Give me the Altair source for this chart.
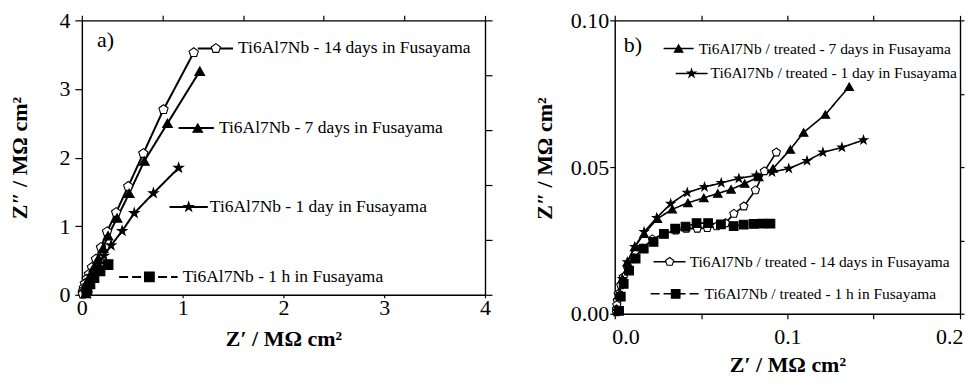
import altair as alt
import pandas as pd

# ---------------- data: panel a (untreated) ----------------
A_SERIES = ["14 days", "7 days", "1 day", "1 h"]
a_x14 = [1.11, 0.81, 0.61, 0.46, 0.34, 0.25, 0.19, 0.14, 0.10, 0.07, 0.05, 0.03, 0.02, 0.015, 0.01, 0.01]
a_y14 = [3.53, 2.70, 2.06, 1.58, 1.20, 0.92, 0.69, 0.52, 0.40, 0.30, 0.23, 0.16, 0.10, 0.06, 0.03, 0.01]
a_x7 = [1.17, 0.85, 0.62, 0.47, 0.35, 0.26, 0.21, 0.16, 0.12, 0.09, 0.06, 0.05, 0.04]
a_y7 = [3.26, 2.50, 1.95, 1.48, 1.12, 0.86, 0.68, 0.52, 0.40, 0.30, 0.20, 0.10, 0.02]
a_x1 = [0.96, 0.71, 0.52, 0.40, 0.29, 0.22, 0.17, 0.13, 0.10, 0.08, 0.06, 0.05]
a_y1 = [1.85, 1.48, 1.19, 0.93, 0.72, 0.57, 0.45, 0.35, 0.26, 0.17, 0.09, 0.02]
a_xh = [0.26, 0.18, 0.12, 0.08, 0.05]
a_yh = [0.44, 0.35, 0.25, 0.16, 0.06]

a_labels = ["Ti6Al7Nb - 14 days in Fusayama", "Ti6Al7Nb  - 7 days in Fusayama",
            "Ti6Al7Nb  - 1 day in Fusayama", "Ti6Al7Nb - 1 h in Fusayama"]
# legend annotation anchors (data coordinates)
a_leg_x0 = [1.15, 0.96, 0.87, 0.37]
a_leg_x1 = [1.50, 1.31, 1.25, 0.95]
a_leg_xm = [1.33, 1.15, 1.06, 0.67]
a_leg_xt = [1.55, 1.36, 1.27, 1.00]
a_leg_y = [3.59, 2.43, 1.28, 0.26]

# ---------------- data: panel b (treated) ----------------
b_x14 = [0.0936, 0.0867, 0.0815, 0.0748, 0.069, 0.0642, 0.059, 0.0536, 0.0478, 0.0414, 0.0353, 0.0285,
         0.0218, 0.016, 0.0112, 0.0073, 0.005, 0.0035, 0.0021, 0.0015, 0.0012, 0.001, 0.001]
b_y14 = [0.055, 0.0486, 0.0421, 0.0366, 0.0341, 0.0309, 0.0298, 0.0292, 0.029, 0.029, 0.0284, 0.0273,
         0.0254, 0.0222, 0.019, 0.0159, 0.0125, 0.0097, 0.0068, 0.0045, 0.003, 0.0015, 0.0005]
b_x7 = [0.1358, 0.122, 0.1094, 0.1017, 0.0917, 0.0834, 0.0753, 0.0674, 0.0597, 0.0516, 0.0424, 0.0333,
        0.0247, 0.017, 0.0116, 0.0073, 0.0044, 0.0025, 0.0015]
b_y7 = [0.0774, 0.0679, 0.0618, 0.056, 0.0495, 0.0466, 0.0444, 0.0424, 0.041, 0.0395, 0.0378, 0.0356,
        0.0324, 0.0273, 0.0228, 0.0176, 0.0119, 0.0063, 0.0011]
b_x1 = [0.1441, 0.1316, 0.1206, 0.1114, 0.1008, 0.0911, 0.0821, 0.0719, 0.0617, 0.052, 0.042, 0.0324,
        0.0243, 0.017, 0.0116, 0.0073, 0.0044, 0.0025, 0.0015]
b_y1 = [0.0592, 0.0567, 0.055, 0.0521, 0.0495, 0.0483, 0.0472, 0.0461, 0.0446, 0.0432, 0.0413, 0.0375,
        0.0327, 0.0279, 0.0228, 0.0176, 0.0119, 0.0063, 0.0011]
b_xh = [0.0902, 0.0854, 0.0805, 0.0747, 0.0689, 0.0615, 0.0541, 0.0474, 0.041, 0.035, 0.0285, 0.0225,
        0.0168, 0.0121, 0.0083, 0.0052, 0.0035, 0.0025]
b_yh = [0.0307, 0.0307, 0.0306, 0.0304, 0.0299, 0.0305, 0.0309, 0.0309, 0.0297, 0.029, 0.0272, 0.0245,
        0.0222, 0.0188, 0.0147, 0.0102, 0.0058, 0.001]

b_labels = ["Ti6Al7Nb / treated - 7 days in Fusayama", "Ti6Al7Nb / treated - 1 day in Fusayama",
            "Ti6Al7Nb / treated - 14 days in Fusayama", "Ti6Al7Nb / treated - 1 h in Fusayama"]
b_leg_series = ["7 days", "1 day", "14 days", "1 h"]
b_leg_x0 = [0.0283, 0.0353, 0.0225, 0.0208]
b_leg_x1 = [0.0457, 0.0538, 0.0410, 0.0497]
b_leg_xm = [0.0370, 0.0445, 0.0318, 0.0353]
b_leg_xt = [0.0486, 0.0555, 0.0434, 0.0520]
b_leg_y = [0.0904, 0.0819, 0.0177, 0.0068]

# ---------------- styling ----------------
FONT = "'Liberation Serif', 'Times New Roman', Times, serif"
PENTAGON = "M0,-1L0.951,-0.309L0.588,0.809L-0.588,0.809L-0.951,-0.309Z"
STAR = ("M0,-1L0.2245,-0.309L0.951,-0.309L0.363,0.118L0.588,0.809L0,0.382"
        "L-0.588,0.809L-0.363,0.118L-0.951,-0.309L-0.2245,-0.309Z")
shape_scale = alt.Scale(domain=A_SERIES, range=[PENTAGON, "triangle-up", STAR, "square"])
fill_scale = alt.Scale(domain=A_SERIES, range=["white", "black", "black", "black"])
dash_scale = alt.Scale(domain=A_SERIES, range=[[1, 0], [1, 0], [1, 0], [9, 4]])


def make_df(series_lists):
    rows = []
    for name, xs, ys in series_lists:
        for i, (x, y) in enumerate(zip(xs, ys)):
            rows.append({"series": name, "i": i, "x": x, "y": y})
    return pd.DataFrame(rows)


def axis(orient, values, title=None, labels=True, fmt=None, tick=6, pad=3, tpad=10,
         label_expr=None, flush=False, flush_offset=0, title_y=None):
    kw = dict(orient=orient, values=values, grid=False, domainColor="black", domainWidth=1.4,
              tickColor="black", tickWidth=1.2, tickSize=tick, labels=labels,
              labelFont=FONT, labelFontSize=22, labelColor="black", labelPadding=pad,
              titleFont=FONT, titleFontSize=22, titleFontWeight="bold", titleColor="black",
              titlePadding=tpad, labelFlush=flush, labelOverlap=False)
    if flush:
        kw["labelFlushOffset"] = flush_offset
    kw["title"] = title if title is not None else None
    if fmt is not None:
        kw["format"] = fmt
    if label_expr is not None:
        kw["labelExpr"] = label_expr
    if title_y is not None:
        kw["titleY"] = title_y
    return alt.Axis(**kw)


def panel(df, leg_df, xdom, ydom, w, h, ax_bottom, ax_left, ax_top, ax_right, tag, tag_x, tag_y,
          msize, lw, leg_font_size):
    xs = alt.Scale(domain=xdom, nice=False, zero=False)
    ys = alt.Scale(domain=ydom, nice=False, zero=False)
    base = alt.Chart(df)
    lines = base.mark_line(color="black", strokeWidth=lw, clip=True).encode(
        x=alt.X("x:Q", scale=xs, axis=ax_bottom),
        y=alt.Y("y:Q", scale=ys, axis=ax_left),
        detail="series:N",
        order="i:Q",
        strokeDash=alt.StrokeDash("series:N", scale=dash_scale, legend=None),
    )
    pts = base.mark_point(filled=True, stroke="black", strokeWidth=1.1, opacity=1).encode(
        x=alt.X("x:Q", scale=xs, axis=ax_top),
        y=alt.Y("y:Q", scale=ys, axis=ax_right),
        shape=alt.Shape("series:N", scale=shape_scale, legend=None),
        fill=alt.Fill("series:N", scale=fill_scale, legend=None),
        size=alt.value(msize),
    )
    lb = alt.Chart(leg_df)
    leg_line = lb.mark_rule(color="black", strokeWidth=lw).encode(
        x=alt.X("x0:Q", scale=xs, axis=None), x2="x1:Q",
        y=alt.Y("y:Q", scale=ys, axis=None),
        strokeDash=alt.StrokeDash("series:N", scale=dash_scale, legend=None),
    )
    leg_pts = lb.mark_point(filled=True, stroke="black", strokeWidth=1.1, opacity=1).encode(
        x=alt.X("xm:Q", scale=xs, axis=None),
        y=alt.Y("y:Q", scale=ys, axis=None),
        shape=alt.Shape("series:N", scale=shape_scale, legend=None),
        fill=alt.Fill("series:N", scale=fill_scale, legend=None),
        size=alt.value(msize),
    )
    leg_txt = lb.mark_text(align="left", baseline="middle", font=FONT, fontSize=leg_font_size,
                           color="black").encode(
        x=alt.X("xt:Q", scale=xs, axis=None),
        y=alt.Y("y:Q", scale=ys, axis=None),
        text="label:N",
    )
    tag_txt = alt.Chart(pd.DataFrame({"x": [tag_x], "y": [tag_y], "t": [tag]})).mark_text(
        align="left", baseline="middle", font=FONT, fontSize=22, color="black").encode(
        x=alt.X("x:Q", scale=xs, axis=None),
        y=alt.Y("y:Q", scale=ys, axis=None),
        text="t:N",
    )
    return alt.layer(lines, pts, leg_line, leg_pts, leg_txt, tag_txt).resolve_axis(
        x="independent", y="independent").properties(width=w, height=h)


df_a = make_df([("14 days", a_x14, a_y14), ("7 days", a_x7, a_y7),
                ("1 day", a_x1, a_y1), ("1 h", a_xh, a_yh)])
leg_a = pd.DataFrame({"series": A_SERIES, "x0": a_leg_x0, "x1": a_leg_x1, "xm": a_leg_xm,
                      "xt": a_leg_xt, "y": a_leg_y, "label": a_labels})
df_b = make_df([("14 days", b_x14, b_y14), ("7 days", b_x7, b_y7),
                ("1 day", b_x1, b_y1), ("1 h", b_xh, b_yh)])
leg_b = pd.DataFrame({"series": b_leg_series, "x0": b_leg_x0, "x1": b_leg_x1, "xm": b_leg_xm,
                      "xt": b_leg_xt, "y": b_leg_y, "label": b_labels})

TITLE_X = "Z\u2032 / M\u03a9 cm\u00b2"
TITLE_Y = "Z\u2033 / M\u03a9 cm\u00b2"

chart_a = panel(
    df_a, leg_a, [0, 4], [0, 4], 404, 275,
    axis("bottom", [0, 0.5, 1, 1.5, 2, 2.5, 3, 3.5, 4], TITLE_X, fmt="d", tick=3, pad=0, tpad=10,
         label_expr="datum.value % 1 == 0 ? datum.label : ''"),
    axis("left", [0, 1, 2, 3, 4], TITLE_Y, fmt="d", tick=7, pad=5, tpad=27),
    axis("top", [0, 0.8, 1.6, 2.4, 3.2, 4], labels=False, tick=5),
    axis("right", [0, 0.8, 1.6, 2.4, 3.2, 4], labels=False, tick=7),
    "a)", 0.15, 3.72, 95, 2, 17.5,
)

chart_b = panel(
    df_b, leg_b, [0, 0.2], [0, 0.1], 346, 294,
    axis("bottom", [0, 0.05, 0.1, 0.15, 0.2], TITLE_X, fmt=".1f", tick=5, pad=8, tpad=7,
         label_expr="(round(datum.value * 100) % 10 == 0) ? datum.label : ''",
         flush=True, flush_offset=3),
    axis("left", [0, 0.05, 0.1], TITLE_Y, fmt=".2f", tick=5, pad=1, tpad=14, title_y=138),
    axis("top", [0, 0.05, 0.1, 0.15, 0.2], labels=False, tick=5),
    axis("right", [0, 0.025, 0.05, 0.075, 0.1], labels=False, tick=4),
    "b)", 0.0052, 0.0915, 75, 1.6, 15.5,
)

chart = alt.hconcat(chart_a, chart_b, spacing=39).properties(
    padding={"left": 0, "top": 0, "right": 0, "bottom": 0}
).configure_view(stroke=None).configure(background="white")

chart.save("out.html", embed_options={"renderer": "svg", "actions": False})
